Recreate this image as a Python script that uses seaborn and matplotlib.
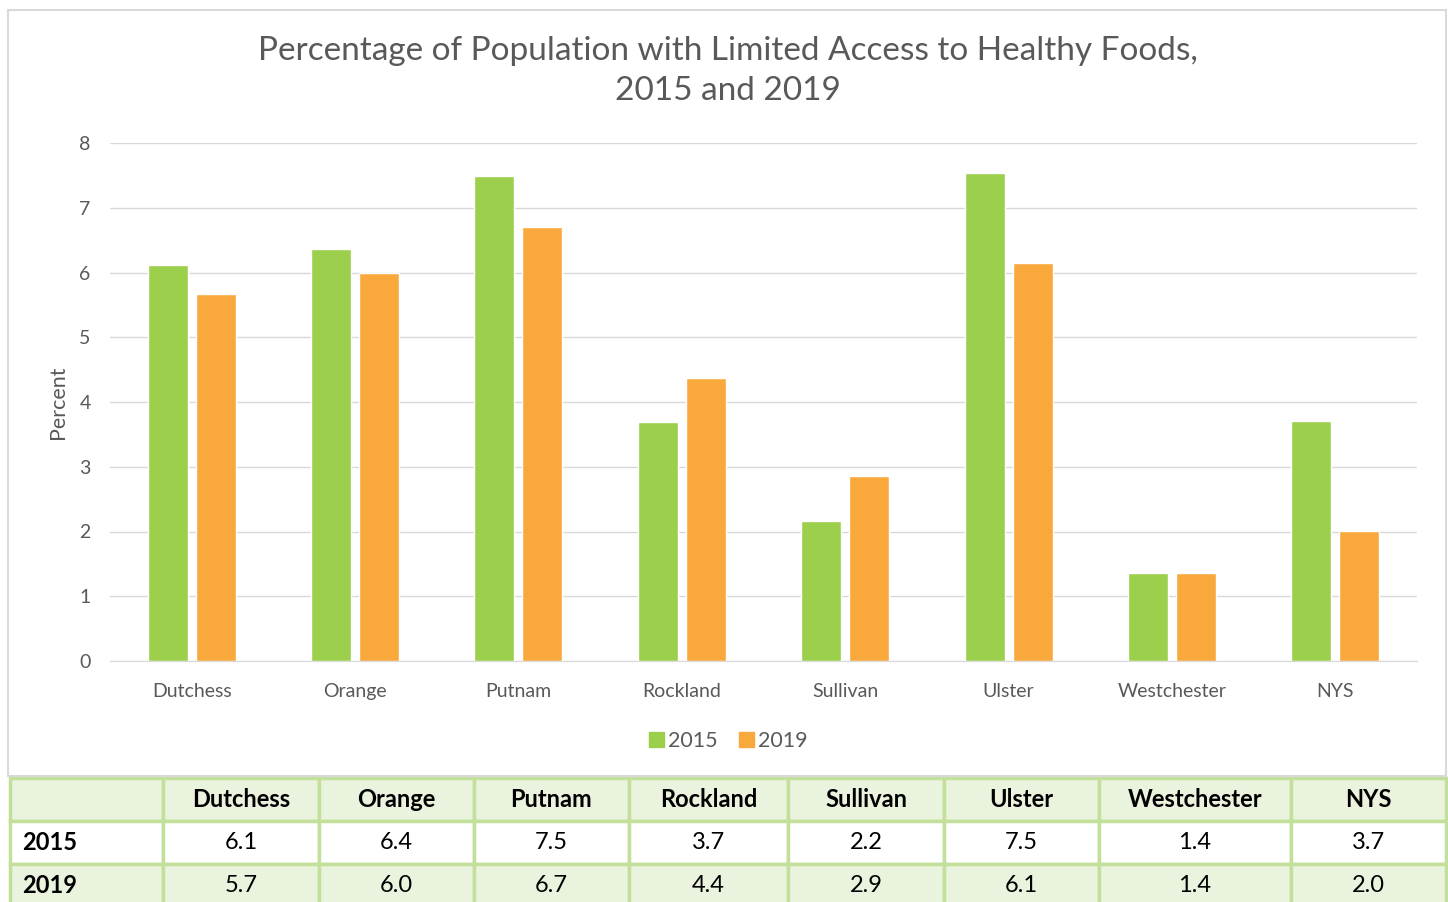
import matplotlib
matplotlib.use("Agg")
import matplotlib.pyplot as plt
from matplotlib.patches import Rectangle
import seaborn as sns
import pandas as pd

# dane
counties = ["Dutchess", "Orange", "Putnam", "Rockland", "Sullivan", "Ulster", "Westchester", "NYS"]
years = ["2015", "2019"]
pct_2015 = [6.12, 6.36, 7.49, 3.69, 2.16, 7.54, 1.36, 3.71]
pct_2019 = [5.67, 5.99, 6.70, 4.37, 2.86, 6.14, 1.36, 2.01]
table_2015 = ["6.1", "6.4", "7.5", "3.7", "2.2", "7.5", "1.4", "3.7"]
table_2019 = ["5.7", "6.0", "6.7", "4.4", "2.9", "6.1", "1.4", "2.0"]
colors = {"2015": "#9BCF4C", "2019": "#F9A83C"}

df = pd.DataFrame({
    "county": counties * 2,
    "year": ["2015"] * len(counties) + ["2019"] * len(counties),
    "pct": pct_2015 + pct_2019,
})

sns.set_style("white")
plt.rcParams['font.family'] = ['Lato', 'DejaVu Sans']
grey = "#595959"

W, H = 1448, 902
fig = plt.figure(figsize=(W / 100, H / 100), dpi=100)

# ramka wykresu
fig.patches.append(Rectangle((8 / W, 1 - 776 / H), 1438 / W, 766 / H, transform=fig.transFigure,
                             fill=False, edgecolor="#D9D9D9", linewidth=1.5))

ax = fig.add_axes([110 / W, 1 - 661 / H, 1307 / W, 518 / H])
sns.barplot(data=df, x="county", y="pct", hue="year", palette=colors, width=0.5875, gap=0.1667,
            ax=ax, legend=False, errorbar=None, saturation=1)
ax.set_ylim(0, 8)
ax.set_xlim(-0.5, len(counties) - 0.5)
ax.set_yticks(range(0, 9))
ax.yaxis.grid(True, color="#D9D9D9", linewidth=1)
ax.set_axisbelow(True)
for s in ["left", "right", "top"]:
    ax.spines[s].set_visible(False)
ax.spines["bottom"].set_color("#D9D9D9")
ax.tick_params(axis="both", length=0, labelsize=14, labelcolor=grey)
ax.tick_params(axis="y", pad=14)
ax.tick_params(axis="x", pad=16)
ax.set_xlabel("")
ax.set_ylabel("Percent", fontsize=15.5, color=grey, labelpad=8)

fig.text(0.503, 1 - 71 / H, "Percentage of Population with Limited Access to Healthy Foods,\n2015 and 2019",
         ha="center", va="center", fontsize=24, color=grey, linespacing=1.45)

handles = [Rectangle((0, 0), 1, 1, color=colors[y]) for y in years]
fig.legend(handles, years, loc="center", bbox_to_anchor=(0.503, 1 - 741 / H), ncol=2, frameon=False,
           fontsize=15.5, handlelength=0.7, handleheight=0.7, handletextpad=0.2, columnspacing=1.0,
           labelcolor=grey)

# tabela pod wykresem
tax = fig.add_axes([10 / W, 1 - 907 / H, 1436 / W, 129 / H])
tax.axis("off")
col_px = [153, 156, 155, 155, 159, 156, 155, 192, 155]
col_w = [c / sum(col_px) for c in col_px]
cells = [[""] + counties, ["2015"] + table_2015, ["2019"] + table_2019]
light = "#EAF3DD"
cell_colors = [[light] * 9, ["white"] * 9, [light] * 9]
tbl = tax.table(cellText=cells, cellColours=cell_colors, colWidths=col_w, bbox=[0, 0, 1, 1],
                cellLoc="center")
tbl.auto_set_font_size(False)
for (r, c), cell in tbl.get_celld().items():
    cell.set_edgecolor("#C3E09A")
    cell.set_linewidth(2.5)
    txt = cell.get_text()
    txt.set_fontsize(17)
    txt.set_color("black")
    if r == 0 or c == 0:
        txt.set_fontweight("bold")
    if c == 0:
        txt.set_ha("left")
        cell.PAD = 0.08

fig.savefig("out.png", dpi=100)
